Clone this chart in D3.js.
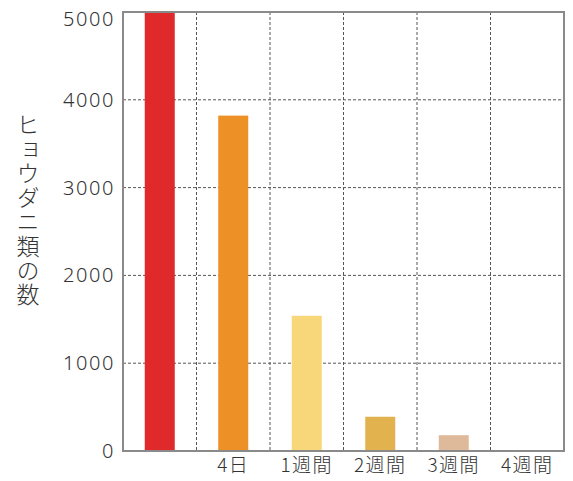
<!DOCTYPE html>
<html><head><meta charset="utf-8">
<script src="https://cdn.jsdelivr.net/npm/d3@7"></script>
<style>
html,body{margin:0;padding:0;background:#fff;}
svg text{font-family:"Noto Sans CJK JP","Noto Sans",sans-serif;fill:#333;}
</style></head>
<body><svg id="chart" width="573" height="481"></svg>
<script>
const categories = ["", "4日", "1週間", "2週間", "3週間", "4週間"];
const values = [5000, 3820, 1540, 390, 180, 0];
const colors = ["#e0292a", "#ed9126", "#f8d67a", "#e2b24e", "#dfba9a", "#dfba9a"];
const yTicks = [0, 1000, 2000, 3000, 4000, 5000];
const yLabel = "ヒョウダニ類の数";

const svg = d3.select("#chart");
const m = {left: 123, right: 564, top: 12, bottom: 451};
const x = d3.scaleBand().domain(d3.range(categories.length)).range([m.left, m.right]).paddingInner(0).paddingOuter(0);
const y = d3.scaleLinear().domain([0, 5000]).range([m.bottom, m.top]);

// horizontal grid
svg.append("g").selectAll("line").data(yTicks.filter(d => d > 0 && d < 5000)).join("line")
  .attr("x1", m.left).attr("x2", m.right).attr("y1", d => y(d)).attr("y2", d => y(d))
  .attr("stroke", "#555").attr("stroke-width", 1).attr("stroke-dasharray", "3,2");
// vertical grid at band boundaries
svg.append("g").selectAll("line").data(d3.range(1, categories.length)).join("line")
  .attr("x1", i => x(i)).attr("x2", i => x(i)).attr("y1", m.top).attr("y2", m.bottom)
  .attr("stroke", "#555").attr("stroke-width", 1).attr("stroke-dasharray", "3,2");

// bars
const bw = 30;
svg.append("g").selectAll("rect").data(values).join("rect")
  .attr("x", (d, i) => x(i) + x.bandwidth() / 2 - bw / 2)
  .attr("width", bw)
  .attr("y", d => y(d))
  .attr("height", d => y(0) - y(d))
  .attr("fill", (d, i) => colors[i]);

// frame
svg.append("rect").attr("x", m.left).attr("y", m.top).attr("width", m.right - m.left).attr("height", m.bottom - m.top)
  .attr("fill", "none").attr("stroke", "#8a8a8a").attr("stroke-width", 2);

// y axis
const yAxis = d3.axisLeft(y).tickValues(yTicks).tickSize(0).tickPadding(8).tickFormat(d3.format("d"));
const ya = svg.append("g").attr("transform", `translate(${m.left},0)`).call(yAxis);
ya.select(".domain").remove();
ya.selectAll("text").attr("font-size", 20).attr("font-weight", 300).style("fill", "#333")
  .style("letter-spacing", "1.6px")
  .style("font-family", "'Noto Sans', 'DejaVu Sans', sans-serif");
ya.selectAll(".tick").filter(d => d === 5000).select("text").attr("dy", "0.68em");

// x axis
const xAxis = d3.axisBottom(x).tickFormat(i => categories[i]).tickSize(0).tickPadding(7);
const xa = svg.append("g").attr("transform", `translate(0,${m.bottom})`).call(xAxis);
xa.select(".domain").remove();
xa.selectAll("text").attr("font-size", 19).attr("font-weight", 300).style("fill", "#333")
  .style("letter-spacing", "1.5px");

// y label vertical
svg.append("text")
  .attr("x", 28).attr("y", 113)
  .attr("font-size", 23)
  .attr("font-weight", 300)
  .style("writing-mode", "vertical-rl")
  .style("text-orientation", "upright")
  .style("letter-spacing", "1.3px")
  .text(yLabel);
</script></body></html>
